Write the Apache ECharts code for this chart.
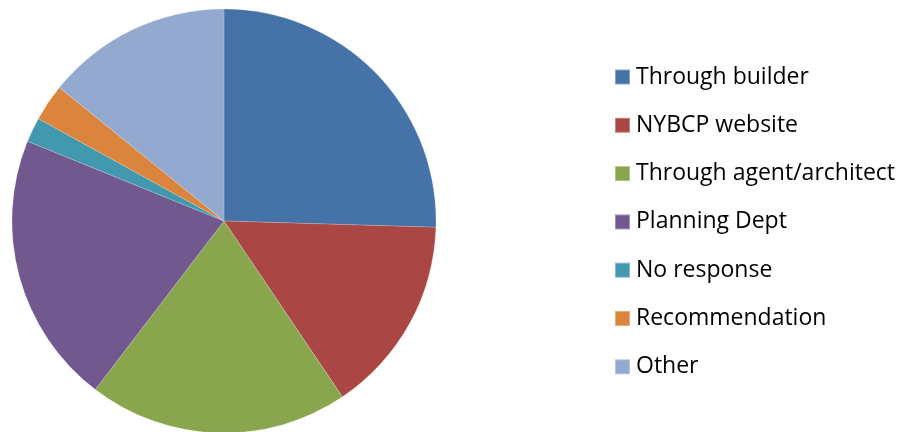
<!DOCTYPE html>
<html>
<head>
<meta charset="utf-8">
<script src="https://cdn.jsdelivr.net/npm/echarts@6/dist/echarts.min.js"></script>
<style>
  html, body { margin: 0; padding: 0; background: #ffffff; }
  #chart { width: 902px; height: 432px; }
</style>
</head>
<body>
<div id="chart"></div>
<script>
// How respondents heard about the programme
const categories = [
  'Through builder',
  'NYBCP website',
  'Through agent/architect',
  'Planning Dept',
  'No response',
  'Recommendation',
  'Other'
];
const counts = [27, 16, 21, 22, 2, 3, 15];
const colors = ['#4572A7', '#AA4643', '#89A54E', '#71588F', '#4198AF', '#DB843D', '#93A9CF'];

const chart = echarts.init(document.getElementById('chart'), null, { renderer: 'canvas' });

chart.setOption({
  animation: false,
  color: colors,
  legend: {
    orient: 'vertical',
    left: 614,
    top: 65,
    padding: 0,
    itemWidth: 15,
    itemHeight: 15,
    itemGap: 24.3,
    icon: 'rect',
    data: categories,
    textStyle: {
      fontFamily: '"Open Sans", sans-serif',
      fontSize: 23,
      color: '#000000',
      lineHeight: 24,
      height: 24,
      padding: [0, 0, 0, 1]
    }
  },
  series: [{
    type: 'pie',
    center: [224, 221],
    radius: [0, 212],
    startAngle: 90,
    clockwise: true,
    avoidLabelOverlap: false,
    label: { show: false },
    labelLine: { show: false },
    emphasis: { disabled: true },
    itemStyle: { borderColor: 'rgba(255,255,255,0.35)', borderWidth: 0.5 },
    data: categories.map((name, i) => ({ name, value: counts[i] }))
  }]
});
</script>
</body>
</html>
